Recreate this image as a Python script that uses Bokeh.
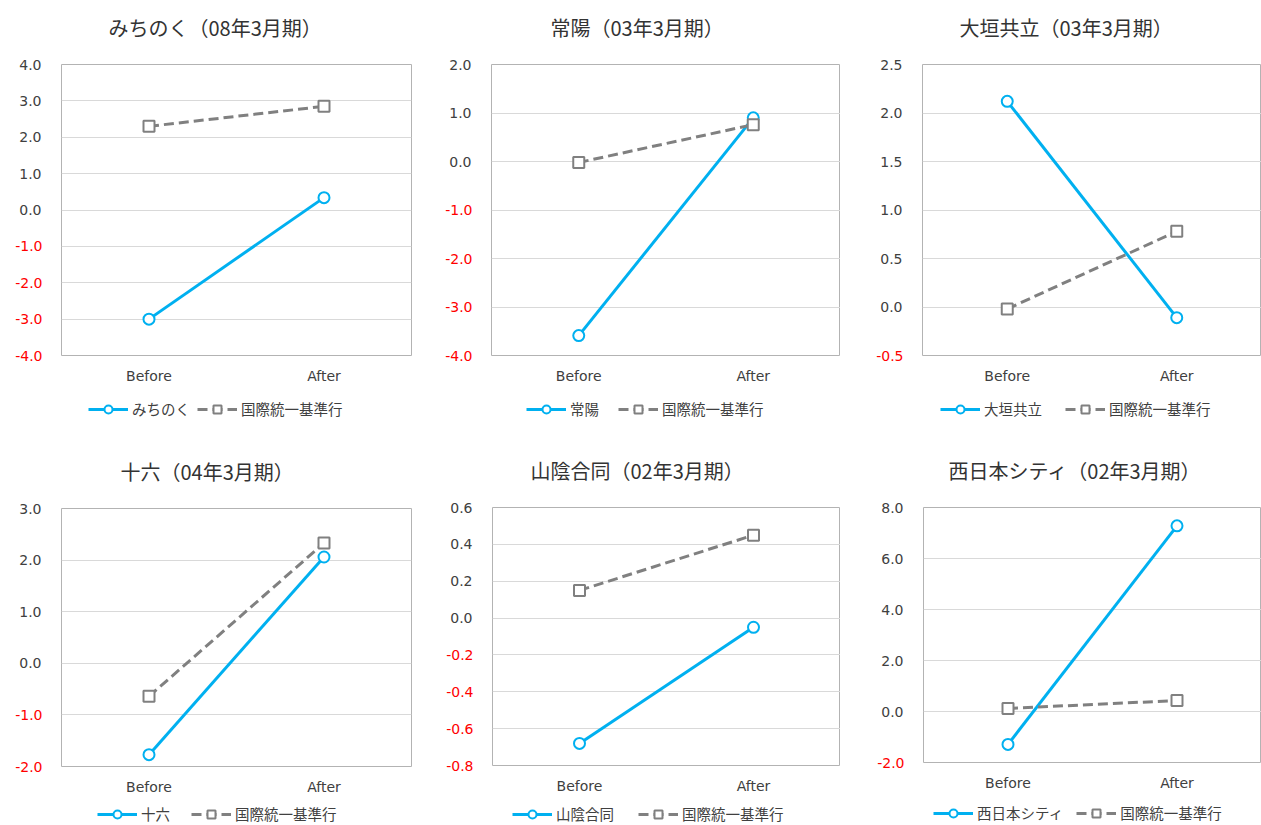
from bokeh.plotting import figure
from bokeh.models import (FactorRange, Range1d, FixedTicker, Legend, LegendItem,
                          LinearAxis, Title, NumeralTickFormatter)
from bokeh.layouts import row, column
from bokeh.embed import file_html
from bokeh.resources import INLINE

# ---------------- data ----------------
categories = ["Before", "After"]
benchmark_name = "国際統一基準行"

bank_names = ["みちのく", "常陽", "大垣共立", "十六", "山陰合同", "西日本シティ"]
periods = ["08年3月期", "03年3月期", "03年3月期", "04年3月期", "02年3月期", "02年3月期"]

michinoku = [-3.00, 0.34]
joyo = [-3.59, 0.90]
ogaki = [2.12, -0.11]
juroku = [-1.77, 2.06]
sanin = [-0.68, -0.05]
nishinippon = [-1.29, 7.28]
bank_values = [michinoku, joyo, ogaki, juroku, sanin, nishinippon]

bench_michinoku = [2.30, 2.85]
bench_joyo = [-0.02, 0.76]
bench_ogaki = [-0.02, 0.78]
bench_juroku = [-0.64, 2.33]
bench_sanin = [0.15, 0.45]
bench_nishinippon = [0.12, 0.43]
bench_values = [bench_michinoku, bench_joyo, bench_ogaki, bench_juroku, bench_sanin, bench_nishinippon]

ticks_michinoku = [-4.0, -3.0, -2.0, -1.0, 0.0, 1.0, 2.0, 3.0, 4.0]
ticks_joyo = [-4.0, -3.0, -2.0, -1.0, 0.0, 1.0, 2.0]
ticks_ogaki = [-0.5, 0.0, 0.5, 1.0, 1.5, 2.0, 2.5]
ticks_juroku = [-2.0, -1.0, 0.0, 1.0, 2.0, 3.0]
ticks_sanin = [-0.8, -0.6, -0.4, -0.2, 0.0, 0.2, 0.4, 0.6]
ticks_nishinippon = [-2.0, 0.0, 2.0, 4.0, 6.0, 8.0]
y_ticks = [ticks_michinoku, ticks_joyo, ticks_ogaki, ticks_juroku, ticks_sanin, ticks_nishinippon]

# ---------------- layout / style ----------------
# (width, main_h, legend_h, left, right, top, bottom, title_x,
#  legend_x, legend_y, legend_spacing)
layout_params = [
    (420, 395, 45, 61, 9, 64, 40, 47, 27, 21, 7),
    (420, 395, 45, 71, 0, 64, 40, 59, 35, 21, 19),
    (421, 395, 45, 82, 0, 64, 40, 37, 18, 21, 23),
    (420, 358, 27, 61, 9, 68, 32, 59, 36, 1, 21),
    (420, 358, 27, 72, 0, 67, 33, 38, 20, 1, 24),
    (421, 358, 27, 83, 0, 67, 36, 25, 10, 2, 13),
]

BLUE = "#00B0F0"
GRAY = "#808080"
TEXT = "#404040"
RED = "#FF0000"
NUM_FONT = "DejaVu Sans"
JP_FONT = "Noto Sans CJK JP"


def style_axis(ax, color):
    ax.axis_line_color = None
    ax.major_tick_line_color = None
    ax.minor_tick_line_color = None
    ax.major_tick_out = 0
    ax.major_label_text_font = NUM_FONT
    ax.major_label_text_font_size = "14px"
    ax.major_label_text_color = color


def add_series(p, i):
    l1 = p.line(categories, bank_values[i], line_color=BLUE, line_width=3)
    s1 = p.scatter(categories, bank_values[i], marker="circle", size=11,
                   fill_color="white", line_color=BLUE, line_width=2)
    l2 = p.line(categories, bench_values[i], line_color=GRAY, line_width=3,
                line_dash="10 5")
    s2 = p.scatter(categories, bench_values[i], marker="square", size=11,
                   fill_color="white", line_color=GRAY, line_width=2)
    return l1, s1, l2, s2


def make_panel(i):
    w, mh, lh, l, r, t, b, tx, lx, ly, lsp = layout_params[i]
    ticks = y_ticks[i]
    p = figure(width=w, height=mh, x_range=FactorRange(*categories),
               y_range=Range1d(ticks[0], ticks[-1]),
               output_backend="svg", toolbar_location=None,
               min_border_left=l, min_border_right=r,
               min_border_top=t, min_border_bottom=b)
    p.title = None
    # spacer (closest to the frame), then the real title above it
    p.add_layout(Title(text=" ", text_font_size="1px", standoff=20), "above")
    p.add_layout(Title(text=f"{bank_names[i]}（{periods[i]}）", align="left",
                       offset=tx, standoff=0, text_font=JP_FONT,
                       text_font_size="20px", text_font_style="normal",
                       text_color="#333333"), "above")
    p.outline_line_color = "#B3B3B3"
    p.outline_line_width = 1
    p.background_fill_color = "white"
    p.border_fill_color = "white"

    p.xgrid.grid_line_color = None
    p.ygrid.ticker = FixedTicker(ticks=ticks)
    p.ygrid.grid_line_color = "#D9D9D9"
    p.ygrid.grid_line_width = 1

    style_axis(p.xaxis[0], TEXT)
    p.xaxis.major_label_standoff = 12

    # inner axis: negative tick labels in red
    style_axis(p.yaxis[0], RED)
    p.yaxis[0].ticker = FixedTicker(ticks=[v for v in ticks if v < 0])
    p.yaxis[0].formatter = NumeralTickFormatter(format="0.0")
    p.yaxis[0].major_label_standoff = 19

    # outer axis: non-negative tick labels, pulled back onto the same column
    pos_axis = LinearAxis(ticker=FixedTicker(ticks=[v for v in ticks if v >= 0]),
                          formatter=NumeralTickFormatter(format="0.0"))
    style_axis(pos_axis, TEXT)
    pos_axis.major_label_standoff = -29
    p.add_layout(pos_axis, "left")

    add_series(p, i)

    # legend strip below the chart (its copies of the series sit outside its view)
    lg = figure(width=w, height=lh, x_range=FactorRange(*categories),
                y_range=Range1d(1000, 1001),
                output_backend="svg", toolbar_location=None,
                x_axis_location=None, y_axis_location=None,
                min_border_left=0, min_border_right=0,
                min_border_top=0, min_border_bottom=0)
    lg.outline_line_color = None
    lg.grid.grid_line_color = None
    l1, s1, l2, s2 = add_series(lg, i)
    legend = Legend(items=[LegendItem(label=bank_names[i], renderers=[l1, s1]),
                           LegendItem(label=benchmark_name, renderers=[l2, s2])],
                    orientation="horizontal", location=(lx, ly),
                    glyph_width=40, glyph_height=20, label_standoff=4,
                    spacing=lsp, padding=0, margin=0,
                    border_line_color=None, background_fill_alpha=0,
                    label_text_font=JP_FONT, label_text_font_size="14.5px",
                    label_text_color=TEXT)
    lg.add_layout(legend)
    return column(p, lg, spacing=0)


panels = [make_panel(i) for i in range(6)]
layout = column(row(*panels[:3], spacing=0), row(*panels[3:], spacing=0), spacing=0)

open("out.html", "w").write(file_html(layout, INLINE))
